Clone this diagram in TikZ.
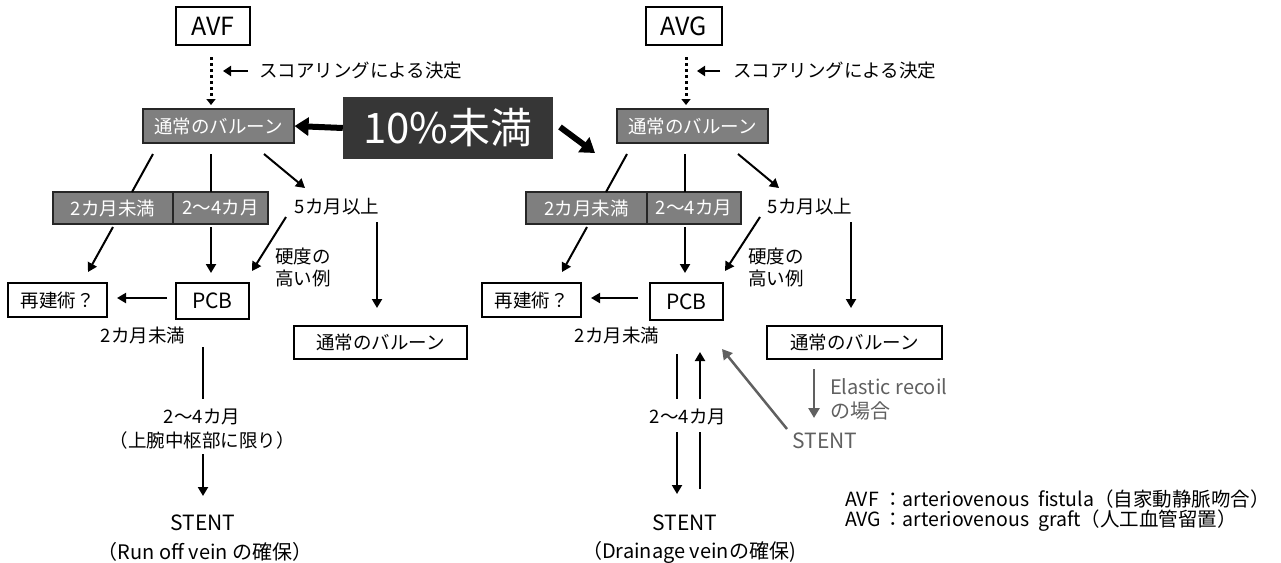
\documentclass[tikz,border=0pt]{standalone}
\usepackage{fontspec}
\setmainfont{Noto Sans CJK JP}
\usetikzlibrary{arrows.meta}
\definecolor{boxgray}{HTML}{7F7F7F}
\definecolor{darkbox}{HTML}{363636}
\definecolor{txtgray}{HTML}{606060}
\newcommand\fJ{\fontsize{18.5pt}{22pt}\selectfont}
\newcommand\fE{\fontsize{20pt}{24pt}\selectfont}
\newcommand\fG{\fontsize{19.5pt}{23pt}\selectfont}
\newcommand\fL{\fontsize{21pt}{24pt}\selectfont}
\newcommand\fT{\fontsize{25pt}{28pt}\selectfont}
\newcommand\fB{\fontsize{42pt}{46pt}\selectfont}
\begin{document}
\begin{tikzpicture}[x=1pt,y=-1pt,
  wbox/.style={draw=black, line width=1.8pt, fill=white, inner sep=0pt, font=\fJ},
  gbox/.style={draw=black!85, line width=1.2pt, fill=boxgray, text=white, inner sep=0pt, font=\fJ},
  lbl/.style={inner sep=0pt, font=\fJ},
  arr/.style={line width=2pt, -{Triangle[length=9pt,width=10pt]}},
  ln/.style={line width=2pt},
  bigarr/.style={line width=6pt, -{Triangle[length=14pt,width=18pt]}},
  dotarr/.style={line width=3pt, dash pattern=on 3pt off 3pt, -{Triangle[length=6pt,width=9pt]}},
  smarr/.style={line width=2.5pt, -{Triangle[length=8pt,width=10pt]}},
  garr/.style={line width=2.5pt, draw=txtgray, -{Triangle[length=10pt,width=11pt]}}]
\useasboundingbox (0,0) rectangle (1281,562);

% ---------- top boxes ----------
\node[wbox, font=\fT, minimum width=74pt, minimum height=38pt] (avf) at (213,26) {AVF};
\node[wbox, font=\fT, minimum width=76pt, minimum height=38pt] (avg) at (684,26) {AVG};

\node[gbox, minimum width=151pt, minimum height=34pt] (balL) at (218.5,126) {通常のバルーン};
\node[gbox, minimum width=151pt, minimum height=34pt] (balR) at (692.5,126) {通常のバルーン};

\node[fill=darkbox, text=white, font=\fB, inner sep=0pt, minimum width=210pt, minimum height=62pt] (ten) at (448,128) {10\%未満};

% scoring labels
\node[lbl, anchor=west] (scL) at (259,71) {スコアリングによる決定};
\node[lbl, anchor=west] (scR) at (733,71) {スコアリングによる決定};
\coordinate (scLa) at (248,71); \coordinate (scLb) at (223,71);
\coordinate (scRa) at (720,71); \coordinate (scRb) at (697,71);
\draw[smarr] (scLa) -- (scLb);
\draw[smarr] (scRa) -- (scRb);

\coordinate (dLa) at (211,57); \coordinate (dLb) at (211,105);
\coordinate (dRa) at (686,57); \coordinate (dRb) at (686,105);
\draw[dotarr] (dLa) -- (dLb);
\draw[dotarr] (dRa) -- (dRb);

\draw[bigarr] (ten.west) -- (balL.east);
\coordinate (tenR) at (560,127); \coordinate (tenRb) at (595,153);
\draw[bigarr] (tenR) -- (tenRb);

% ---------- middle gray boxes ----------
\node[gbox, minimum width=120pt, minimum height=32pt] (m2L) at (113,208) {2カ月未満};
\node[gbox, minimum width=95pt, minimum height=32pt] (m24L) at (220.5,208) {2〜4カ月};
\node[gbox, minimum width=121pt, minimum height=32pt] (m2R) at (586.5,208) {2カ月未満};
\node[gbox, minimum width=94pt, minimum height=32pt] (m24R) at (694,208) {2〜4カ月};

\node[lbl] (m5L) at (337,207) {5カ月以上};
\node[lbl] (m5R) at (810,207) {5カ月以上};
\node[lbl, anchor=west, align=left] (hardL) at (275,267) {硬度の\\高い例};
\node[lbl, anchor=west, align=left] (hardR) at (748,267) {硬度の\\高い例};

% ---------- lower boxes ----------
\node[wbox, minimum width=99pt, minimum height=34pt] (reL) at (57.5,300) {再建術？};
\node[wbox, minimum width=99pt, minimum height=34pt] (reR) at (531.5,300) {再建術？};
\node[wbox, font=\fL, minimum width=73pt, minimum height=36pt] (pcbL) at (212.5,301) {PCB};
\node[wbox, font=\fL, minimum width=73pt, minimum height=37pt] (pcbR) at (686.5,301.5) {PCB};
\node[wbox, minimum width=173pt, minimum height=33pt] (nbL) at (380.5,342.5) {通常のバルーン};
\node[wbox, minimum width=175pt, minimum height=33pt] (nbR) at (854.5,342.5) {通常のバルーン};

\node[lbl] (lt2L) at (143,335) {2カ月未満};
\node[lbl] (lt2R) at (617,335) {2カ月未満};

% ---------- left connectors ----------
\coordinate (a1) at (153,154); \coordinate (a2) at (132,192);
\coordinate (a3) at (113,227); \coordinate (a4) at (88,272);
\draw[ln] (a1) -- (a2); \draw[arr] (a3) -- (a4);
\coordinate (b1) at (211,154); \coordinate (b2) at (211,192);
\coordinate (b3) at (211,227); \coordinate (b4) at (211,273);
\draw[ln] (b1) -- (b2); \draw[arr] (b3) -- (b4);
\coordinate (c1) at (264,154); \coordinate (c2) at (305,188);
\draw[arr] (c1) -- (c2);
\coordinate (d1) at (286,217); \coordinate (d2) at (252,271);
\draw[arr] (d1) -- (d2);
\coordinate (e1) at (377,222); \coordinate (e2) at (377,308);
\draw[arr] (e1) -- (e2);
\coordinate (f1) at (167,298); \coordinate (f2) at (117,298);
\draw[arr] (f1) -- (f2);

\coordinate (g1) at (203,347); \coordinate (g2) at (203,399);
\coordinate (g3) at (203,454); \coordinate (g4) at (203,496);
\draw[ln] (g1) -- (g2); \draw[arr] (g3) -- (g4);
\node[lbl] (s24L) at (202,417) {2〜4カ月};
\node[lbl] (armL) at (202,440) {（上腕中枢部に限り）};
\node[lbl, font=\fL] (stL) at (203,523) {STENT};
\node[lbl, font=\fE] (stLb) at (205,552) {（Run off vein の確保）};

% ---------- right connectors ----------
\coordinate (ra1) at (627,154); \coordinate (ra2) at (606,192);
\coordinate (ra3) at (587,227); \coordinate (ra4) at (562,272);
\draw[ln] (ra1) -- (ra2); \draw[arr] (ra3) -- (ra4);
\coordinate (rb1) at (685,154); \coordinate (rb2) at (685,192);
\coordinate (rb3) at (685,227); \coordinate (rb4) at (685,273);
\draw[ln] (rb1) -- (rb2); \draw[arr] (rb3) -- (rb4);
\coordinate (rc1) at (738,154); \coordinate (rc2) at (779,188);
\draw[arr] (rc1) -- (rc2);
\coordinate (rd1) at (760,217); \coordinate (rd2) at (725,271);
\draw[arr] (rd1) -- (rd2);
\coordinate (re1) at (851,222); \coordinate (re2) at (851,308);
\draw[arr] (re1) -- (re2);
\coordinate (rf1) at (638,298); \coordinate (rf2) at (591,298);
\draw[arr] (rf1) -- (rf2);

\coordinate (rg1) at (677,354); \coordinate (rg2) at (677,399);
\coordinate (rg3) at (677,432); \coordinate (rg4) at (677,494);
\draw[ln] (rg1) -- (rg2); \draw[arr] (rg3) -- (rg4);
\coordinate (rh1) at (700,489); \coordinate (rh2) at (700,432);
\coordinate (rh3) at (700,399); \coordinate (rh4) at (700,352);
\draw[ln] (rh1) -- (rh2); \draw[arr] (rh3) -- (rh4);
\node[lbl] (s24R) at (688,417) {2〜4カ月};
\node[lbl, font=\fL] (stR) at (685,523) {STENT};
\node[lbl, font=\fE] (stRb) at (689,552) {（Drainage veinの確保)};

% gray part
\node[lbl, text=txtgray, font=\fL] (stG) at (825,441) {STENT};
\coordinate (gs1) at (787,429); \coordinate (gs2) at (722,349);
\draw[garr] (gs1) -- (gs2);
\coordinate (gd1) at (814,369); \coordinate (gd2) at (814,418);
\draw[garr] (gd1) -- (gd2);
\node[lbl, text=txtgray, anchor=west, font=\fE] (el1) at (830,387) {Elastic recoil};
\node[lbl, text=txtgray, anchor=west, font=\fE] (el2) at (830,411) {の場合};

% legend
\node[lbl, anchor=west, font=\fG] (lg1) at (845,499) {\makebox[1.95em][l]{AVF}：arteriovenous\ \ fistula（自家動静脈吻合）};
\node[lbl, anchor=west, font=\fG] (lg2) at (845,521) {\makebox[1.95em][l]{AVG}：arteriovenous\ \ graft（人工血管留置）};
\end{tikzpicture}
\end{document}
